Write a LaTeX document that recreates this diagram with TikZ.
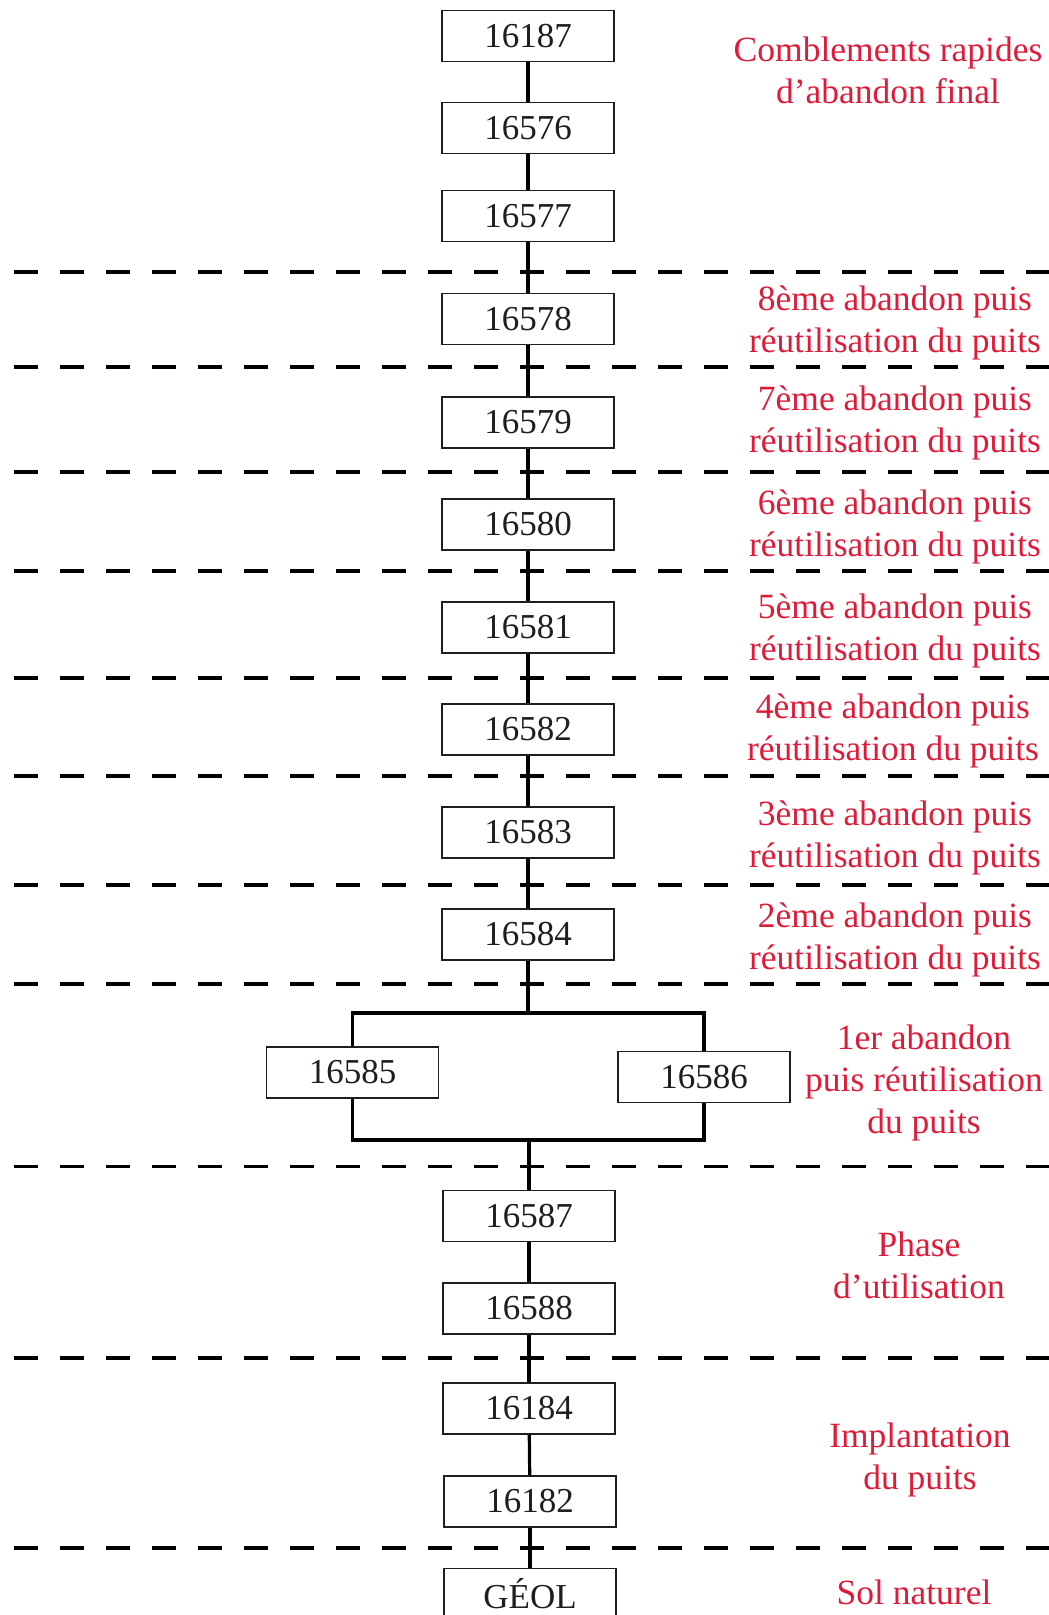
\documentclass[tikz,border=0pt]{standalone}
\usepackage{fontspec}
\setmainfont{Liberation Serif}
\definecolor{lblred}{RGB}{222,28,58}
\definecolor{boxink}{RGB}{30,30,30}
\begin{document}
\begin{tikzpicture}[x=1pt,y=-1pt,
  box/.style={draw=boxink, line width=1.3pt, minimum width=172pt, minimum height=51pt, inner sep=0pt,
    font=\fontsize{35}{40}\selectfont, text=boxink},
  lbl/.style={align=center, text=lblred, font=\fontsize{35.5}{42}\selectfont, inner sep=0pt},
  conn/.style={draw=black, line width=3.2pt},
  sep/.style={draw=black, line width=3.4pt, dash pattern=on 24pt off 22pt, dash phase=0pt}]
\useasboundingbox (0,0) rectangle (1049,1615);
\clip (0,0) rectangle (1049,1615);
% dashed separators
\foreach \yy in {272,367,472,571,678,776,885,984,1166.5,1358,1548}
  \draw[sep] (14,\yy) -- (1049,\yy);
% boxes
\node[box] (b16187) at (528,36) {16187};
\node[box] (b16576) at (528,128) {16576};
\node[box] (b16577) at (528,216) {16577};
\node[box] (b16578) at (528,319) {16578};
\node[box] (b16579) at (528,422.5) {16579};
\node[box] (b16580) at (528,524.5) {16580};
\node[box] (b16581) at (528,627.5) {16581};
\node[box] (b16582) at (528,729.5) {16582};
\node[box] (b16583) at (528,832.5) {16583};
\node[box] (b16584) at (528,934.5) {16584};
\node[box] (b16585) at (352.5,1072.5) {16585};
\node[box] (b16586) at (704,1077) {16586};
\node[box] (b16587) at (529,1216) {16587};
\node[box] (b16588) at (529,1308.5) {16588};
\node[box] (b16184) at (529,1408.5) {16184};
\node[box] (b16182) at (530,1501.5) {16182};
\node[box] (geol) at (530,1594) {GÉOL};
% connectors
\coordinate (bt) at (528,1013);
\coordinate (bb) at (529,1140);
\draw[conn] (b16187) -- (b16576);
\draw[conn] (b16576) -- (b16577);
\draw[conn] (b16577) -- (b16578);
\draw[conn] (b16578) -- (b16579);
\draw[conn] (b16579) -- (b16580);
\draw[conn] (b16580) -- (b16581);
\draw[conn] (b16581) -- (b16582);
\draw[conn] (b16582) -- (b16583);
\draw[conn] (b16583) -- (b16584);
\draw[conn] (b16584) -- (bt);
\draw[conn] (b16585.north) -- (b16585.north |- bt) -- (b16586.north |- bt) -- (b16586.north);
\draw[conn] (b16585.south) -- (b16585.south |- bb) -- (b16586.south |- bb) -- (b16586.south);
\draw[conn] (bb) -- (b16587);
\draw[conn] (b16587) -- (b16588);
\draw[conn] (b16588) -- (b16184);
\draw[conn] (b16184) -- (b16182);
\draw[conn] (b16182) -- (geol);
% labels
\node[lbl] (l1) at (888,70) {Comblements rapides\\d’abandon final};
\node[lbl] (l8) at (895,323) {8ème abandon puis\\réutilisation du puits};
\node[lbl] (l7) at (895,423) {7ème abandon puis\\réutilisation du puits};
\node[lbl] (l6) at (895,526.5) {6ème abandon puis\\réutilisation du puits};
\node[lbl] (l5) at (895,631) {5ème abandon puis\\réutilisation du puits};
\node[lbl] (l4) at (893,730.5) {4ème abandon puis\\réutilisation du puits};
\node[lbl] (l3) at (895,837.5) {3ème abandon puis\\réutilisation du puits};
\node[lbl] (l2) at (895,939.5) {2ème abandon puis\\réutilisation du puits};
\node[lbl] (l0) at (924,1083) {1er abandon\\puis réutilisation\\du puits};
\node[lbl] (lp) at (919,1265) {Phase\\d’utilisation};
\node[lbl] (li) at (920,1460) {Implantation\\du puits};
\node[lbl] (ls) at (914,1592) {Sol naturel};
\end{tikzpicture}
\end{document}
